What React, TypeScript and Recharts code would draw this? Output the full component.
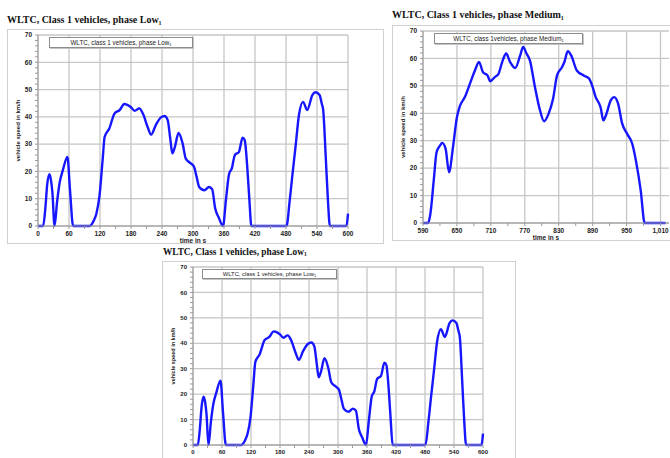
import React from "react";
import { LineChart, Line, XAxis, YAxis, CartesianGrid, Legend, Label } from "recharts";

// WLTC class 1, phase Low
const lowTime = [
  0, 10, 14, 18, 22, 25, 28, 32, 37, 42, 48, 57, 62, 68, 100, 108, 113, 119, 125, 129,
  138, 148, 158, 167, 180, 187, 196, 203, 212, 219, 228, 238, 245, 251, 256, 260, 265, 272,
  280, 286, 296, 302, 307, 312, 322, 331, 337, 343, 350, 358, 364, 370, 375, 381, 389, 396,
  400, 405, 409, 413, 481, 487, 492, 499, 505, 513, 521, 531, 537, 545, 549, 552, 557, 561,
  565, 597, 600,
];
const lowSpeed = [
  0, 0, 6, 15.5, 19, 17, 12, 0, 9, 16, 20.4, 25.3, 13, 0, 0, 2, 4.5, 11, 24, 32.7,
  35.7, 41.2, 42.5, 44.7, 43.5, 42.2, 43.1, 41.2, 36.4, 33.5, 37, 39.8, 40.3, 38.8, 32, 26.6, 29, 34.1,
  30.2, 24.7, 22.9, 21.7, 18, 14.3, 13.1, 14.3, 13.5, 6.4, 3, 0, 10, 19.2, 21, 26, 27.2, 32.4,
  31.5, 21.7, 10, 0, 0, 9, 18, 30, 40.6, 45.5, 42.5, 48, 49, 48, 45, 42.5, 25, 10,
  0, 0, 4.5,
];

// WLTC class 1, phase Medium
const mediumTime = [
  590, 599, 603, 609, 614, 620, 624, 630, 636, 643, 650, 655, 664, 673, 682, 689, 696, 704,
  709, 717, 723, 731, 737, 744, 753, 762, 767, 773, 779, 788, 797, 804, 812, 820, 827, 836,
  840, 846, 852, 862, 874, 883, 889, 895, 904, 909, 913, 922, 928, 935, 942, 951, 960, 967,
  975, 982, 1019,
];
const mediumSpeed = [
  0, 0, 3.3, 15.5, 25.8, 28.2, 29.2, 27, 18.5, 27.6, 38.6, 42.5, 45.9, 50.8, 55.7, 58.7, 55, 53.8,
  51.7, 53.2, 54.2, 59.3, 61.8, 58.7, 56.5, 61.2, 64.2, 61.8, 59.3, 49.5, 41, 37.1, 39.8, 45.3, 53.8, 56.9,
  58.7, 62.6, 61.1, 55.6, 53.8, 52.8, 50.2, 46.1, 42.2, 37.4, 39, 44.7, 45.9, 43.5, 36.4, 32.5, 28.9, 22.2,
  11.8, 0, 0,
];

const speedTicks = [0, 2, 4, 6, 8, 10, 12, 14, 16, 18, 20, 22, 24, 26, 28, 30, 32, 34, 36, 38, 40, 42, 44, 46, 48, 50, 52, 54, 56, 58, 60, 62, 64, 66, 68, 70];
const speedLabels = [0, 10, 20, 30, 40, 50, 60, 70];
const lowTimeTicks = [0, 30, 60, 90, 120, 150, 180, 210, 240, 270, 300, 330, 360, 390, 420, 450, 480, 510, 540, 570, 600];
const lowTimeLabels = [0, 60, 120, 180, 240, 300, 360, 420, 480, 540, 600];
const mediumTimeTicks = [590, 620, 650, 680, 710, 740, 770, 800, 830, 860, 890, 920, 950, 980, 1010];
const mediumTimeLabels = [590, 650, 710, 770, 830, 890, 950, 1010];

const lowData = lowTime.map((t, i) => ({ time: t, speed: lowSpeed[i] }));
const mediumData = mediumTime.map((t, i) => ({ time: t, speed: mediumSpeed[i] }));

const AXIS_FONT = "'Liberation Sans', Arial, sans-serif";

type PanelProps = {
  left: number;
  top: number;
  width: number;
  height: number;
  right: number;
  data: { time: number; speed: number }[];
  domain: [number, number];
  xTicks: number[];
  xLabels: number[];
  legend: React.ReactNode;
  legendLeft: number;
  legendWidth: number;
  legendHeight: number;
  font: number;
};

const Panel: React.FC<PanelProps> = (p) => {
  const yTick = (props: any) => {
    const { x, y, payload } = props;
    if (!speedLabels.includes(payload.value)) return <g />;
    return (
      <text x={x} y={y} dy="0.35em" textAnchor="end" fontSize={p.font} fontWeight={700} fill="#222" fontFamily={AXIS_FONT}>
        {payload.value}
      </text>
    );
  };
  const xTick = (props: any) => {
    const { x, y, payload } = props;
    if (!p.xLabels.includes(payload.value)) return <g />;
    return (
      <text x={x} y={y} dy="0.71em" textAnchor="middle" fontSize={p.font} fontWeight={700} fill="#222" fontFamily={AXIS_FONT}>
        {payload.value.toLocaleString("en-US")}
      </text>
    );
  };
  const labelStyle = { fontSize: p.font, fontWeight: 700, fill: "#222", fontFamily: AXIS_FONT };

  return (
    <div
      style={{
        position: "absolute",
        left: p.left,
        top: p.top,
        width: p.width,
        height: p.height,
        background: "#fff",
        outline: "1px solid #d0d0d0",
        boxShadow: "1px 1px 0 #e2e2e2",
      }}
    >
      <LineChart width={p.width} height={p.height} data={p.data} margin={{ top: 5, right: p.right, left: 0, bottom: 0 }}>
        <CartesianGrid horizontalValues={speedLabels} verticalValues={p.xLabels} stroke="#c6c6c6" strokeWidth={1.3} />
        <XAxis
          dataKey="time"
          type="number"
          domain={p.domain}
          ticks={p.xTicks}
          interval={0}
          height={17}
          tick={xTick}
          tickSize={3}
          tickMargin={2}
          axisLine={{ stroke: "#9a9a9a" }}
          tickLine={{ stroke: "#9a9a9a" }}
        >
          <Label value="time in s" position="insideBottom" offset={0} style={labelStyle} />
        </XAxis>
        <YAxis
          type="number"
          domain={[0, 70]}
          ticks={speedTicks}
          interval={0}
          width={30}
          tick={yTick}
          tickSize={3}
          tickMargin={3}
          axisLine={{ stroke: "#9a9a9a" }}
          tickLine={{ stroke: "#9a9a9a" }}
        >
          <Label
            value="vehicle speed in km/h"
            angle={-90}
            position="insideLeft"
            offset={10}
            style={{ ...labelStyle, fontSize: p.font - 0.5, textAnchor: "middle" }}
          />
        </YAxis>
        <Legend
          verticalAlign="middle"
          align="center"
          layout="horizontal"
          wrapperStyle={{ left: p.legendLeft, top: 7, width: p.legendWidth, height: p.legendHeight }}
          content={() => (
            <div
              style={{
                boxSizing: "border-box",
                width: p.legendWidth,
                height: p.legendHeight,
                border: "1px solid #8c8c8c",
                boxShadow: "1px 1px 0 #c4c4c4",
                background: "#fff",
                fontFamily: AXIS_FONT,
                fontSize: p.font - 0.2,
                lineHeight: `${p.legendHeight - 2}px`,
                textAlign: "center",
                color: "#222",
                whiteSpace: "nowrap",
              }}
            >
              {p.legend}
            </div>
          )}
        />
        <Line dataKey="speed" type="monotone" stroke="#1616ff" strokeWidth={2.4} dot={false} isAnimationActive={false} />
      </LineChart>
    </div>
  );
};

const titleStyle = (left: number, top: number, size: number): React.CSSProperties => ({
  position: "absolute",
  left,
  top,
  fontFamily: "'Liberation Serif', 'Times New Roman', serif",
  fontWeight: 700,
  fontSize: size,
  lineHeight: 1,
  color: "#111",
  whiteSpace: "nowrap",
});

const sub = (size: number) => <sub style={{ fontSize: size, verticalAlign: "-0.25em" }}>1</sub>;

export default function App() {
  return (
    <div style={{ position: "absolute", left: 0, top: 0, width: 670, height: 458, overflow: "hidden", background: "#fff" }}>
      <div style={titleStyle(7, 15, 10)}>WLTC, Class 1 vehicles, phase Low{sub(6)}</div>
      <div style={titleStyle(392, 10, 10)}>WLTC, Class 1 vehicles, phase Medium{sub(6)}</div>
      <div style={titleStyle(163, 248, 9.3)}>WLTC, Class 1 vehicles, phase Low{sub(5.5)}</div>

      <Panel
        left={8}
        top={30}
        width={375}
        height={213}
        right={35}
        data={lowData}
        domain={[0, 600]}
        xTicks={lowTimeTicks}
        xLabels={lowTimeLabels}
        legend={<>WLTC, class 1 vehicles, phase Low{sub(4)}</>}
        legendLeft={41}
        legendWidth={144}
        legendHeight={11}
        font={6.5}
      />
      <Panel
        left={393}
        top={26}
        width={290}
        height={214}
        right={14}
        data={mediumData}
        domain={[590, 1025]}
        xTicks={mediumTimeTicks}
        xLabels={mediumTimeLabels}
        legend={<>WLTC, class 1vehicles, phase Medium{sub(4)}</>}
        legendLeft={41}
        legendWidth={149}
        legendHeight={11}
        font={6.5}
      />
      <Panel
        left={163}
        top={262}
        width={352}
        height={200}
        right={32}
        data={lowData}
        domain={[0, 600]}
        xTicks={lowTimeTicks}
        xLabels={lowTimeLabels}
        legend={<>WLTC, class 1 vehicles, phase Low{sub(4)}</>}
        legendLeft={39}
        legendWidth={135}
        legendHeight={10}
        font={6}
      />
    </div>
  );
}
